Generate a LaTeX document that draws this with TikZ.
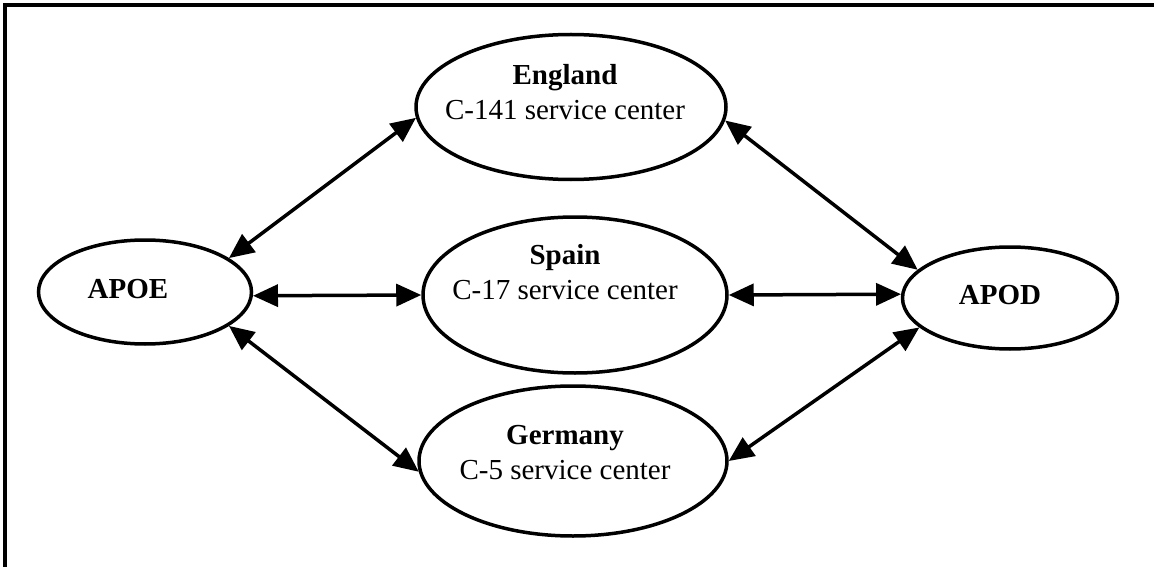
\documentclass[tikz,border=0pt]{standalone}
\usepackage{fontspec}
\setmainfont{Liberation Serif}
\usetikzlibrary{shapes.geometric,arrows.meta}
\begin{document}
\begin{tikzpicture}[x=1pt,y=-1pt,
  frame/.style={line width=3.5pt},
  oval/.style={draw,ellipse,line width=3.5pt,inner sep=0pt},
  lbl/.style={align=center,font=\fontsize{29}{35}\selectfont,anchor=base,inner sep=0pt},
  conn/.style={line width=3.5pt,{Triangle[length=25pt,width=22pt]}-{Triangle[length=25pt,width=22pt]}}]
\useasboundingbox (0,0) rectangle (1154,567);
\draw[frame] (5,567) -- (5,5) -- (1154,5);
% ellipses
\node[oval,minimum width=213pt,minimum height=104pt] (apoe) at (145,292) {};
\node[oval,minimum width=310pt,minimum height=145pt] (england) at (571,107) {};
\node[oval,minimum width=304pt,minimum height=156pt] (spain) at (575,295) {};
\node[oval,minimum width=308pt,minimum height=150pt] (germany) at (573,461) {};
\node[oval,minimum width=215pt,minimum height=102pt] (apod) at (1010,298) {};
% texts
\node[lbl] (apoetxt) at (128,298) {\textbf{APOE}};
\node[lbl] (apodtxt) at (1000,304) {\textbf{APOD}};
\node[lbl] (englandtxt) at (565,120) {\textbf{England}\\C-141 service center};
\node[lbl] (spaintxt) at (565,299) {\textbf{Spain}\\C-17 service center};
\node[lbl] (germanytxt) at (565,479) {\textbf{Germany}\\C-5 service center};
% connectors
\draw[conn] (apoe.22) -- (england.184);
\draw[conn] (apoe.-2) -- (spain.west);
\draw[conn] (apoe.-22) -- (germany.184);
\draw[conn] (england.-5) -- (apod.163);
\draw[conn] (spain.east) -- (apod.178);
\draw[conn] (germany.0) -- (apod.198);
\end{tikzpicture}
\end{document}
